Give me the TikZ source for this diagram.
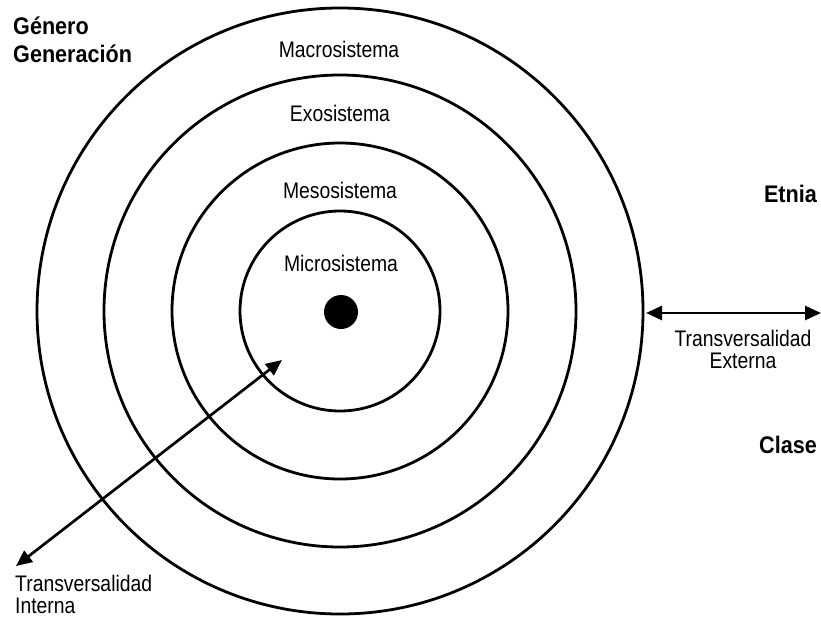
\documentclass[tikz,border=0pt]{standalone}
\usepackage{fontspec}
\setmainfont{Liberation Sans}[FakeStretch=0.86]
\newfontfamily\boldlab{Liberation Sans}[FakeStretch=0.9]
\usetikzlibrary{arrows.meta}
\begin{document}
\begin{tikzpicture}[x=1pt,y=-1pt,
  ring/.style={circle, draw, line width=2.8pt, inner sep=0pt},
  lab/.style={font=\fontsize{22.5}{24}\selectfont, inner sep=0pt},
  blab/.style={font=\boldlab\bfseries\fontsize{24}{28}\selectfont, inner sep=0pt},
  arr/.style={line width=2.7pt, {Triangle[length=16pt,width=14pt]}-{Triangle[length=16pt,width=14pt]}}]
\useasboundingbox (0,0) rectangle (821,618);
\node[ring, minimum size=606pt] (macro) at (340,311) {};
\node[ring, minimum size=472pt] (exo) at (340,311) {};
\node[ring, minimum size=336pt] (meso) at (340,311) {};
\node[ring, minimum size=200pt] (micro) at (340,311) {};
\node[circle, fill, minimum size=34pt, inner sep=0pt] (dot) at (341,312) {};
\node[lab, anchor=base] (tmacro) at (339,57) {Macrosistema};
\node[lab, anchor=base] (texo) at (340,121) {Exosistema};
\node[lab, anchor=base] (tmeso) at (340,198) {Mesosistema};
\node[lab, anchor=base] (tmicro) at (341,271) {Microsistema};
\node[blab, anchor=base west, align=left] (genero) at (13,63) {Género\\Generación};
\node[blab, anchor=base east] (etnia) at (817,202) {Etnia};
\node[blab, anchor=base east] (clase) at (817,453) {Clase};
\node[lab, anchor=base, align=center, font=\fontsize{22.5}{22}\selectfont] (tex) at (743,368) {Transversalidad\\Externa};
\node[lab, anchor=base west, align=left, font=\fontsize{22.5}{22}\selectfont] (tin) at (15,613) {Transversalidad\\Interna};
\coordinate (e1) at (646,313);
\coordinate (e2) at (821,313);
\draw[arr] (e1) -- (e2);
\coordinate (i1) at (16,566);
\coordinate (i2) at (282,360);
\draw[arr] (i1) -- (i2);
\end{tikzpicture}
\end{document}
